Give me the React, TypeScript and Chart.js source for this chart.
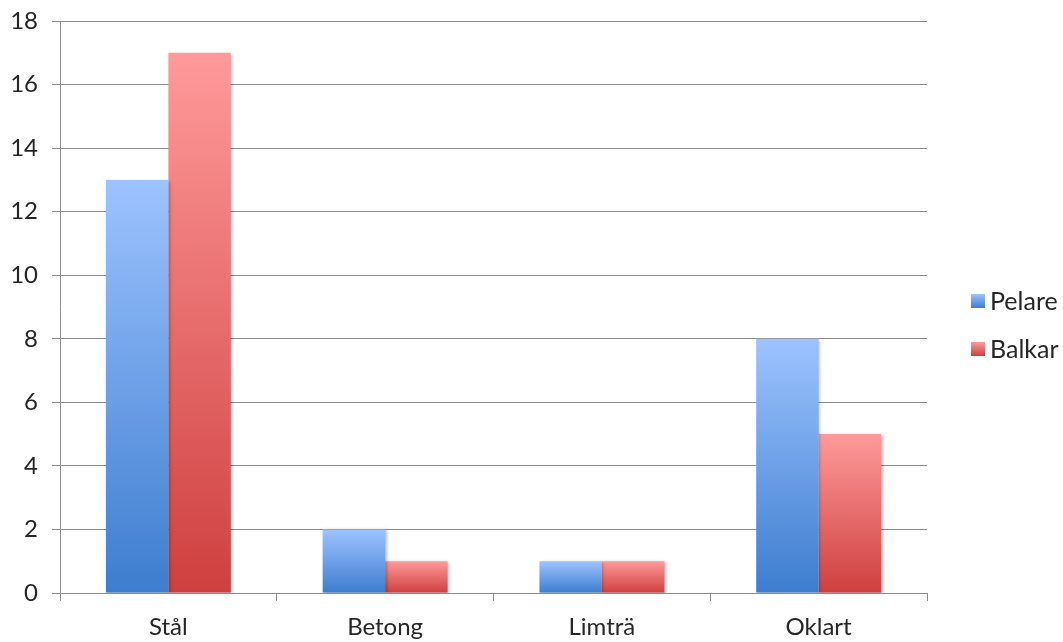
import React, { useEffect, useRef } from "react";
import { Chart, registerables } from "chart.js";

Chart.register(...registerables);

const categories = ["Stål", "Betong", "Limträ", "Oklart"];
const pelare = [13, 2, 1, 8];
const balkar = [17, 1, 1, 5];
const seriesNames = ["Pelare", "Balkar"];
const yTicks = { min: 0, max: 18, step: 2 };

const FONT = "Lato, 'Open Sans', sans-serif";
const TEXT = "#262626";
const LINE = "#8c8c8c";

const palettes = [
  { top: "#9dc3ff", bottom: "#3d7dcf" },
  { top: "#ff9a9a", bottom: "#cf3f3f" },
];

function barGradient(dsIndex: number) {
  return (ctx: any) => {
    const chart = ctx.chart;
    const y = chart.scales?.y;
    if (!y || ctx.raw == null) return palettes[dsIndex].bottom;
    const top = y.getPixelForValue(ctx.raw);
    const base = y.getPixelForValue(0);
    if (!isFinite(top) || !isFinite(base) || top === base) return palettes[dsIndex].bottom;
    const g = chart.ctx.createLinearGradient(0, top, 0, base);
    g.addColorStop(0, palettes[dsIndex].top);
    g.addColorStop(1, palettes[dsIndex].bottom);
    return g;
  };
}

const barShadow = {
  id: "barShadow",
  beforeDatasetsDraw(chart: any) {
    const c = chart.ctx;
    c.save();
    c.shadowColor = "rgba(0,0,0,0.28)";
    c.shadowBlur = 3;
    c.shadowOffsetX = 1.5;
    c.shadowOffsetY = 1;
  },
  afterDatasetsDraw(chart: any) {
    chart.ctx.restore();
  },
};

const sideLegend = {
  id: "sideLegend",
  afterDraw(chart: any) {
    const c = chart.ctx;
    const area = chart.chartArea;
    const x = area.right + 44;
    const mid = (area.top + area.bottom) / 2 + 18;
    const gap = 48;
    const box = 14;
    c.save();
    c.font = `25px ${FONT}`;
    c.textBaseline = "middle";
    seriesNames.forEach((name, i) => {
      const cy = mid - gap / 2 + i * gap;
      const g = c.createLinearGradient(0, cy - box / 2, 0, cy + box / 2);
      g.addColorStop(0, palettes[i].top);
      g.addColorStop(1, palettes[i].bottom);
      c.fillStyle = g;
      c.fillRect(x, cy - box / 2, box, box);
      c.fillStyle = TEXT;
      c.textAlign = "left";
      c.fillText(name, x + 19, cy + 1);
    });
    c.restore();
  },
};

export default function App() {
  const ref = useRef<HTMLCanvasElement>(null);

  useEffect(() => {
    document.body.style.margin = "0";
    const chart = new Chart(ref.current!, {
      type: "bar",
      data: {
        labels: categories,
        datasets: [
          { label: seriesNames[0], data: pelare, backgroundColor: barGradient(0) },
          { label: seriesNames[1], data: balkar, backgroundColor: barGradient(1) },
        ],
      },
      options: {
        animation: false,
        responsive: false,
        maintainAspectRatio: false,
        layout: { padding: { top: 21, right: 136, left: 0, bottom: 0 } },
        datasets: { bar: { categoryPercentage: 0.576, barPercentage: 1 } },
        plugins: { legend: { display: false }, tooltip: { enabled: false } },
        scales: {
          x: {
            afterFit: (s: any) => {
              s.height = 49;
              s.paddingLeft = 0;
              s.paddingRight = 0;
            },
            grid: {
              offset: true,
              drawOnChartArea: false,
              tickLength: 8,
              color: LINE,
            },
            border: { display: true, color: LINE },
            ticks: { color: TEXT, font: { family: FONT, size: 24 }, padding: 12 },
          },
          y: {
            min: yTicks.min,
            max: yTicks.max,
            afterFit: (s: any) => {
              s.width = 60;
              s.paddingTop = 0;
              s.paddingBottom = 0;
            },
            grid: { color: LINE, tickLength: 8 },
            border: { display: true, color: LINE },
            ticks: {
              stepSize: yTicks.step,
              color: TEXT,
              font: { family: FONT, size: 24 },
              padding: 14,
            },
          },
        },
      },
      plugins: [barShadow, sideLegend],
    });
    chart.update();
    return () => chart.destroy();
  }, []);

  return (
    <div style={{ position: "absolute", left: 0, top: 0, width: 1063, height: 642, background: "#fff" }}>
      <canvas ref={ref} width={1063} height={642} />
    </div>
  );
}
